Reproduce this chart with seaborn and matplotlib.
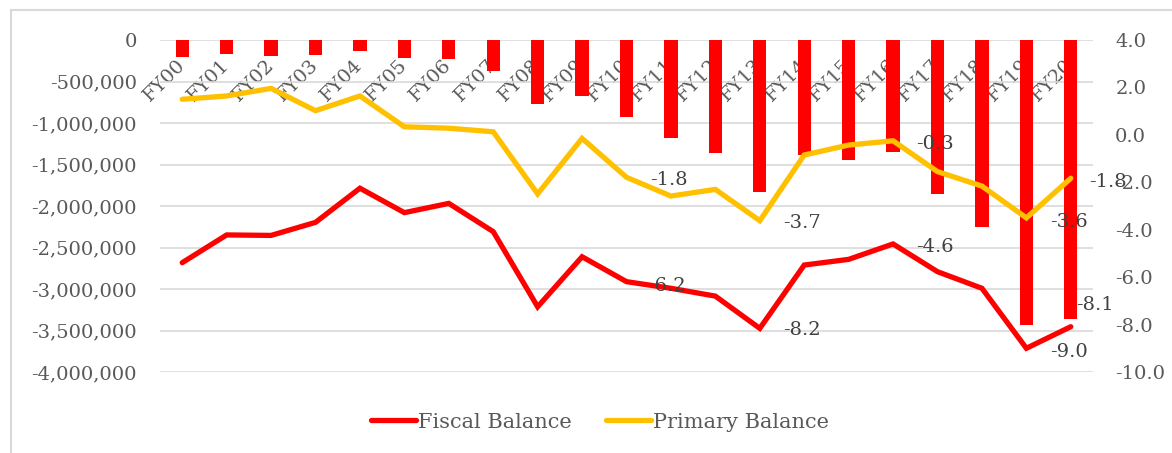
import numpy as np
import pandas as pd
import matplotlib
matplotlib.use("Agg")
import matplotlib.pyplot as plt
import matplotlib.ticker as mticker
from matplotlib.lines import Line2D
import seaborn as sns

# ---------------- data ----------------
years = ["FY00", "FY01", "FY02", "FY03", "FY04", "FY05", "FY06", "FY07", "FY08", "FY09",
         "FY10", "FY11", "FY12", "FY13", "FY14", "FY15", "FY16", "FY17", "FY18", "FY19", "FY20"]

# bars (left axis)
deficit_level = [-201000, -173000, -189000, -177000, -129000, -213000, -233000, -373000,
                 -775000, -675000, -924000, -1185000, -1365000, -1827000, -1386000,
                 -1446000, -1345000, -1855000, -2249000, -3434000, -3365000]

# lines (right axis)
fiscal_balance = [-5.39, -4.22, -4.24, -3.69, -2.25, -3.28, -2.89, -4.08, -7.25, -5.14,
                  -6.19, -6.47, -6.80, -8.16, -5.49, -5.25, -4.60, -5.77, -6.47, -9.00, -8.09]
primary_balance = [1.50, 1.64, 1.96, 1.02, 1.64, 0.34, 0.28, 0.13, -2.49, -0.15,
                   -1.79, -2.58, -2.30, -3.62, -0.85, -0.43, -0.25, -1.55, -2.16, -3.50, -1.83]

# data labels (text, category position, right-axis value)
label_texts = ["-1.8", "-6.2", "-3.7", "-8.2", "-0.3", "-4.6", "-3.6", "-9.0", "-8.1", "-1.8"]
label_x = [10.95, 10.9, 13.94, 13.94, 16.94, 16.94, 19.95, 19.95, 20.54, 20.83]
label_y = [-1.90, -6.37, -3.72, -8.23, -0.39, -4.72, -3.66, -9.14, -7.17, -1.98]

left_ticks = [0, -500000, -1000000, -1500000, -2000000, -2500000, -3000000, -3500000, -4000000]
right_ticks = [4.0, 2.0, 0.0, -2.0, -4.0, -6.0, -8.0, -10.0]

series_names = ["Fiscal Balance", "Primary Balance"]

# ---------------- style ----------------
RED = "#FF0000"
YELLOW = "#FFC000"
TXT = "#595959"
GRID = "#D9D9D9"

sns.set_theme(style="white")
plt.rcParams["font.family"] = ["DejaVu Serif"]
FS = 14
LFS = 15

fig = plt.figure(figsize=(11.72, 4.53), dpi=100)
ax = fig.add_axes([160 / 1172, 1 - 372 / 453, (1093 - 160) / 1172, (372 - 40) / 453])
ax2 = ax.twinx()

pos = np.arange(len(years))
df_bar = pd.DataFrame({"x": pos, "v": deficit_level})
sns.barplot(data=df_bar, x="x", y="v", ax=ax, color=RED, saturation=1, width=0.3,
            native_scale=True, edgecolor="none", linewidth=0)

df_lines = pd.DataFrame({
    "x": np.concatenate([pos, pos]),
    "v": fiscal_balance + primary_balance,
    "s": [series_names[0]] * len(years) + [series_names[1]] * len(years),
})
sns.lineplot(data=df_lines, x="x", y="v", hue="s", palette=[RED, YELLOW], ax=ax2,
             linewidth=3.8, legend=False, solid_capstyle="round", solid_joinstyle="miter")

# axes limits
ax.set_xlim(-0.5, len(years) - 0.5)
ax.set_ylim(-4000000, 0)
ax2.set_ylim(-10, 4)

# left axis
ax.set_yticks(left_ticks)
ax.yaxis.set_major_formatter(mticker.FuncFormatter(lambda v, p: f"{v:,.0f}"))
ax.tick_params(axis="y", length=0, pad=16.5, labelsize=FS, labelcolor=TXT)
ax.grid(axis="y", color=GRID, linewidth=1.2)
ax.grid(axis="x", visible=False)
ax.set_axisbelow(True)

# x axis at value 0 (top)
ax.spines["bottom"].set_position(("data", 0))
ax.set_xticks(pos)
ax.set_xticklabels(years)
ax.tick_params(axis="x", length=0, pad=16, labelsize=FS, labelcolor=TXT)
for t in ax.get_xticklabels():
    t.set_rotation(45)
    t.set_ha("right")
    t.set_va("center")
    t.set_rotation_mode("anchor")
ax.set_xlabel("")
ax.set_ylabel("")

# right axis
ax2.set_yticks(right_ticks)
ax2.yaxis.set_major_formatter(mticker.FuncFormatter(lambda v, p: f"{v:.1f}"))
ax2.tick_params(axis="y", length=0, pad=16, labelsize=FS, labelcolor=TXT)
ax2.grid(False)
ax2.set_ylabel("")
ax2.set_xlabel("")

for a in (ax, ax2):
    for s in a.spines.values():
        s.set_visible(False)

# data labels
for t, x, y in zip(label_texts, label_x, label_y):
    ax2.text(x, y, t, ha="center", va="center", fontsize=FS, color="#404040")

# legend
handles = [Line2D([], [], color=RED, linewidth=3.8, solid_capstyle="round"),
           Line2D([], [], color=YELLOW, linewidth=3.8, solid_capstyle="round")]
leg = fig.legend(handles, series_names, loc="center", bbox_to_anchor=(600 / 1172, 1 - 422 / 453),
                 ncol=2, frameon=False, fontsize=LFS, handlelength=2.2, handletextpad=0.1,
                 columnspacing=1.6, labelcolor=TXT)

# chart-area border (top and left visible)
fig.add_artist(Line2D([11 / 1172, 1], [1 - 10 / 453, 1 - 10 / 453], transform=fig.transFigure,
                      color=GRID, linewidth=1.5))
fig.add_artist(Line2D([11 / 1172, 11 / 1172], [0, 1 - 10 / 453], transform=fig.transFigure,
                      color=GRID, linewidth=1.5))

fig.savefig("out.png", dpi=100)
